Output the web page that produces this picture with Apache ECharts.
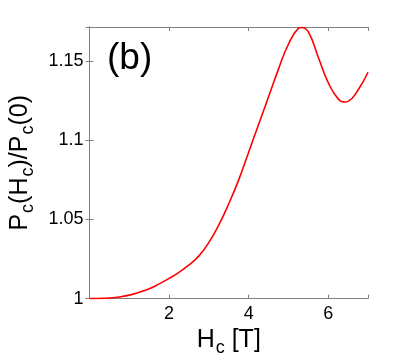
<!DOCTYPE html>
<html>
<head>
<meta charset="utf-8">
<script src="https://cdn.jsdelivr.net/npm/echarts@6/dist/echarts.min.js"></script>
<style>
  html, body { margin: 0; padding: 0; background: #fff; }
  #chart { width: 407px; height: 362px; }
</style>
</head>
<body>
<div id="chart"></div>
<script>
// field H_c [T] and normalised P_c(H_c)/P_c(0)
const fieldH = [0, 0.25, 0.5, 0.75, 1, 1.25, 1.5, 1.75, 2, 2.25, 2.5, 2.75, 3, 3.25, 3.5, 3.75,
  4, 4.25, 4.5, 4.75, 5, 5.25, 5.33, 5.5, 5.75, 6, 6.25, 6.42, 6.5, 6.75, 7]
const ratioP = [1.0, 1.0001, 1.0004, 1.0010, 1.0022, 1.0040, 1.0062, 1.0093, 1.0128, 1.0166, 1.0213,
  1.0270, 1.0355, 1.0466, 1.0599, 1.0750, 1.0925, 1.1100, 1.1275, 1.1450, 1.1607, 1.1707, 1.1713,
  1.1685, 1.1525, 1.1365, 1.1262, 1.1242, 1.1246, 1.1318, 1.1430]
const xTicks = [2, 4, 6]
const yTicks = [1, 1.05, 1.1, 1.15]

const font = "Liberation Sans, Arial, Helvetica, sans-serif"
const frame = "#808080"

const myChart = echarts.init(document.getElementById("chart"))

const baseX = {
  type: "value",
  min: 0,
  max: 7,
  interval: 2,
  splitLine: { show: false },
  axisLine: { show: true, lineStyle: { color: frame, width: 1 } },
  axisTick: { show: true, inside: true, length: 4, lineStyle: { color: frame } }
}
const baseY = {
  type: "value",
  min: 1,
  max: 1.1716,
  interval: 0.05,
  splitLine: { show: false },
  axisLine: { show: true, lineStyle: { color: frame, width: 1 } },
  axisTick: { show: true, inside: true, length: 4, lineStyle: { color: frame } }
}

const nameRich = {
  m: { fontFamily: font, fontSize: 25, color: "#000", lineHeight: 28 },
  s: { fontFamily: font, fontSize: 18, color: "#000", padding: [16, 0, 0, 1] }
}

myChart.setOption({
  animation: false,
  grid: { left: 88, top: 27, right: 39, bottom: 58 },
  xAxis: [
    {
      ...baseX,
      position: "bottom",
      name: "{m|H}{s|c}{m| [T]}",
      nameLocation: "middle",
      nameGap: 20,
      nameTextStyle: { rich: nameRich },
      axisLabel: {
        show: true,
        margin: 6,
        color: "#000",
        fontFamily: font,
        fontSize: 18,
        formatter: v => (xTicks.includes(v) ? String(v) : "")
      }
    },
    { ...baseX, position: "top", axisLabel: { show: false } }
  ],
  yAxis: [
    {
      ...baseY,
      position: "left",
      name: "{m|P}{s|c}{m|(H}{s|c}{m|)/P}{s|c}{m|(0)}",
      nameLocation: "middle",
      nameRotate: 90,
      nameGap: 52,
      nameTextStyle: { rich: nameRich },
      axisLabel: {
        show: true,
        margin: 6,
        color: "#000",
        fontFamily: font,
        fontSize: 18,
        formatter: v => {
          const r = parseFloat(v.toFixed(2))
          return yTicks.includes(r) ? String(r) : ""
        }
      }
    },
    { ...baseY, position: "right", axisLabel: { show: false } }
  ],
  graphic: [
    {
      type: "text",
      left: 107,
      top: 40,
      style: { text: "(b)", fontFamily: font, fontSize: 37, fill: "#000" }
    }
  ],
  series: [
    {
      type: "line",
      xAxisIndex: 0,
      yAxisIndex: 0,
      smooth: 0.5,
      showSymbol: false,
      lineStyle: { color: "#ff0000", width: 1.6 },
      data: fieldH.map((h, i) => [h, ratioP[i]])
    }
  ]
})
</script>
</body>
</html>
